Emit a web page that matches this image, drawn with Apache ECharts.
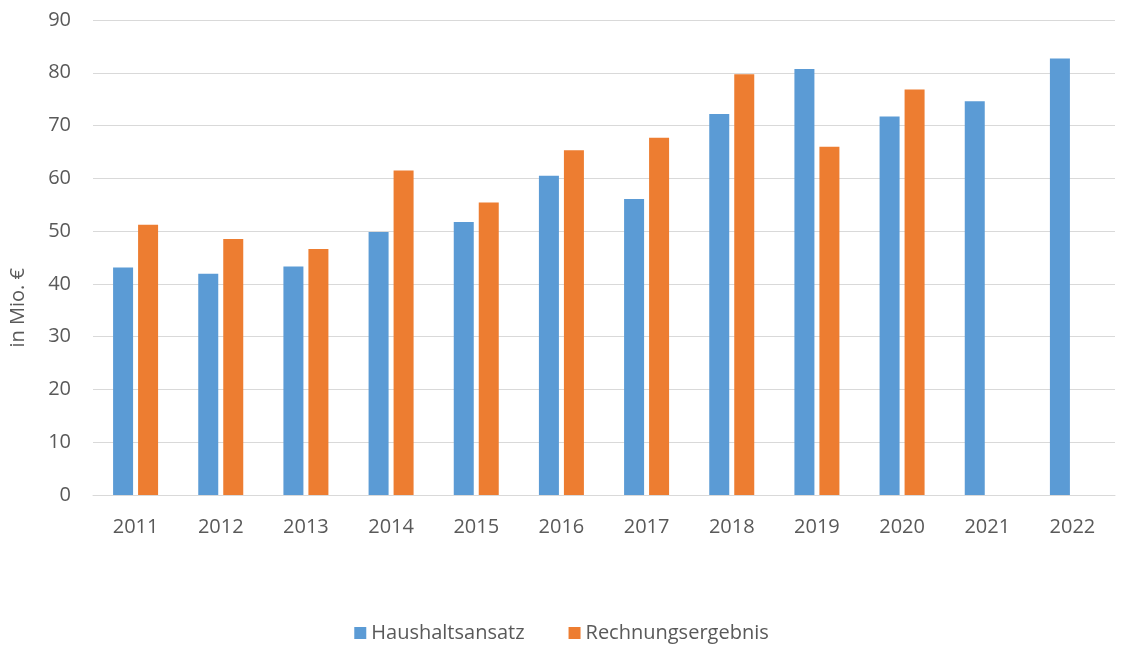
<!DOCTYPE html>
<html><head><meta charset="utf-8">
<script src="https://cdn.jsdelivr.net/npm/echarts@6/dist/echarts.min.js"></script>
<style>html,body{margin:0;padding:0;background:#fff}#c{width:1123px;height:645px}</style>
</head><body><div id="c"></div>
<script>
const categories = ['2011','2012','2013','2014','2015','2016','2017','2018','2019','2020','2021','2022'];
const haushaltsansatz = [43.1, 41.9, 43.3, 49.85, 51.75, 60.5, 56.1, 72.2, 80.7, 71.7, 74.6, 82.7];
const rechnungsergebnis = [51.2, 48.5, 46.6, 61.5, 55.4, 65.3, 67.7, 79.7, 66.0, 76.85, null, null];
const seriesNames = ['Haushaltsansatz', 'Rechnungsergebnis'];
const yAxisTitle = 'in Mio. €';

const font = 'Open Sans, Liberation Sans, sans-serif';
const txt = '#595959';
const chart = echarts.init(document.getElementById('c'));
chart.setOption({
  animation: false,
  grid: { left: 93, right: 8, top: 20, bottom: 150, containLabel: false },
  legend: {
    top: 618, left: 'center', itemWidth: 12, itemHeight: 12, itemGap: 44,
    icon: 'rect',
    textStyle: { color: txt, fontSize: 20, fontFamily: font },
    data: seriesNames
  },
  xAxis: {
    type: 'category', data: categories,
    axisLine: { lineStyle: { color: '#d9d9d9', width: 1 } },
    axisTick: { show: false },
    axisLabel: { color: txt, fontSize: 20, fontFamily: font, margin: 22 }
  },
  yAxis: {
    type: 'value', min: 0, max: 90, interval: 10,
    axisLine: { show: false }, axisTick: { show: false },
    splitLine: { lineStyle: { color: '#d9d9d9', width: 1 } },
    axisLabel: { color: txt, fontSize: 20, fontFamily: font, margin: 22 }
  },
  graphic: [{
    type: 'text', left: 8, top: 268, rotation: Math.PI / 2,
    style: { text: yAxisTitle, fill: txt, font: '20px ' + font }
  }],
  series: [
    { name: seriesNames[0], type: 'bar', data: haushaltsansatz, barWidth: 20, barGap: '25%',
      itemStyle: { color: '#5b9bd5' } },
    { name: seriesNames[1], type: 'bar', data: rechnungsergebnis, barWidth: 20,
      itemStyle: { color: '#ed7d31' } }
  ]
});
</script></body></html>
